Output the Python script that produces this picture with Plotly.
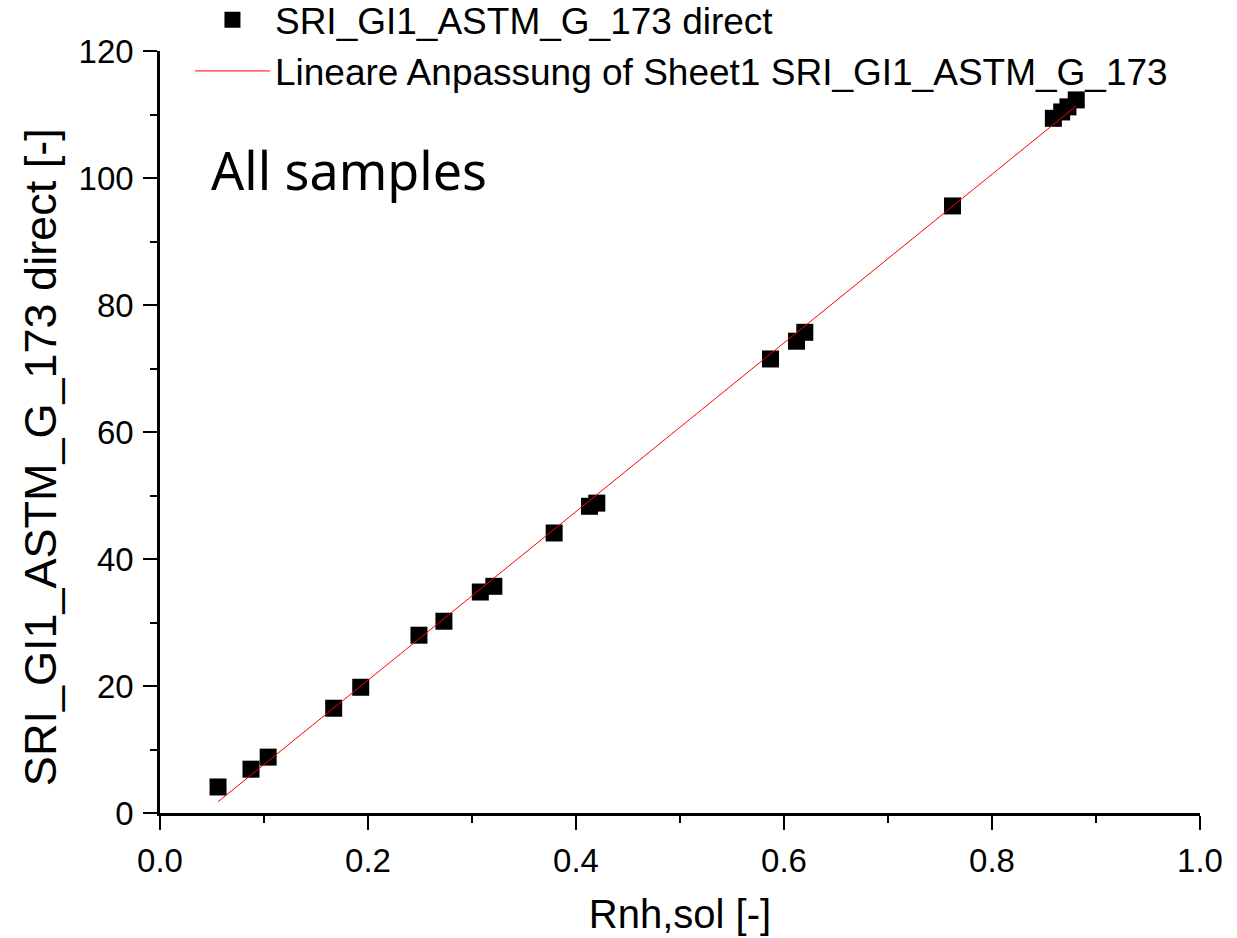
import numpy as np
import plotly.graph_objects as go

# Data
rnh_sol = [0.0558, 0.0875, 0.104, 0.167, 0.193, 0.249, 0.273, 0.308, 0.321,
           0.379, 0.413, 0.420, 0.587, 0.612, 0.620, 0.762, 0.859, 0.867,
           0.873, 0.881]
sri_direct = [4.1, 6.9, 8.8, 16.5, 19.8, 28.0, 30.2, 34.8, 35.7,
              44.1, 48.3, 48.8, 71.5, 74.3, 75.7, 95.6, 109.4, 110.4,
              111.2, 112.3]

x_ticks = [0.0, 0.2, 0.4, 0.6, 0.8, 1.0]
x_tick_labels = ["0.0", "0.2", "0.4", "0.6", "0.8", "1.0"]
y_ticks = [0, 20, 40, 60, 80, 100, 120]
y_tick_labels = ["0", "20", "40", "60", "80", "100", "120"]

series_name = "SRI_GI1_ASTM_G_173 direct"
fit_name = "Lineare Anpassung of Sheet1 SRI_GI1_ASTM_G_173"
y_title = "SRI_GI1_ASTM_G_173 direct [-]"
x_title = "Rnh,sol [-]"

# Linear fit computed from the data
slope, intercept = np.polyfit(rnh_sol, sri_direct, 1)
fit_x = [min(rnh_sol), max(rnh_sol)]
fit_y = [slope * v + intercept for v in fit_x]

FONT = "Arial, 'Liberation Sans', sans-serif"

fig = go.Figure()
fig.add_trace(go.Scatter(
    x=rnh_sol, y=sri_direct, mode="markers", name=series_name,
    marker=dict(symbol="square", size=17, color="black",
                line=dict(width=0)),
    cliponaxis=False,
))
fig.add_trace(go.Scatter(
    x=fit_x, y=fit_y, mode="lines", name=fit_name,
    line=dict(color="red", width=1),
))

axis_common = dict(
    showgrid=False, zeroline=False, showline=True, linecolor="black",
    linewidth=2.5, ticks="outside", ticklen=14, tickwidth=2,
    tickcolor="black", mirror=False, ticklabelstandoff=3,
    tickfont=dict(family=FONT, size=33, color="black"),
)

fig.update_layout(
    width=1237, height=938,
    paper_bgcolor="white", plot_bgcolor="white",
    margin=dict(l=160, r=37, t=51, b=125, autoexpand=False),
    font=dict(family=FONT, color="black"),
    showlegend=True,
    legend=dict(
        x=0.0288, y=1.081, xanchor="left", yanchor="top",
        bgcolor="rgba(0,0,0,0)", font=dict(family=FONT, size=37, color="black"),
        itemwidth=75, tracegroupgap=0,
    ),
    xaxis=dict(
        range=[0, 1], tickvals=x_ticks, ticktext=x_tick_labels,
        title=dict(text=x_title, font=dict(family=FONT, size=40, color="black"),
                   standoff=22),
        minor=dict(dtick=0.1, ticks="outside", ticklen=7, tickwidth=2, tickcolor="black"),
        **axis_common,
    ),
    yaxis=dict(
        range=[0, 120], tickvals=y_ticks, ticktext=y_tick_labels,
        minor=dict(dtick=10, ticks="outside", ticklen=7, tickwidth=2, tickcolor="black"),
        **axis_common,
    ),
    annotations=[
        dict(
            text="All samples", x=0.047, y=101.3, xref="x", yref="y",
            xanchor="left", yanchor="middle", showarrow=False,
            font=dict(family="'Noto Sans', 'Open Sans', sans-serif", size=52, color="black"),
        ),
        dict(
            text=y_title, x=-0.1154, y=0.467, xref="paper", yref="paper",
            xanchor="center", yanchor="middle", textangle=-90, showarrow=False,
            font=dict(family=FONT, size=45, color="black"),
        ),
    ],
)

fig.write_html("out.html")
